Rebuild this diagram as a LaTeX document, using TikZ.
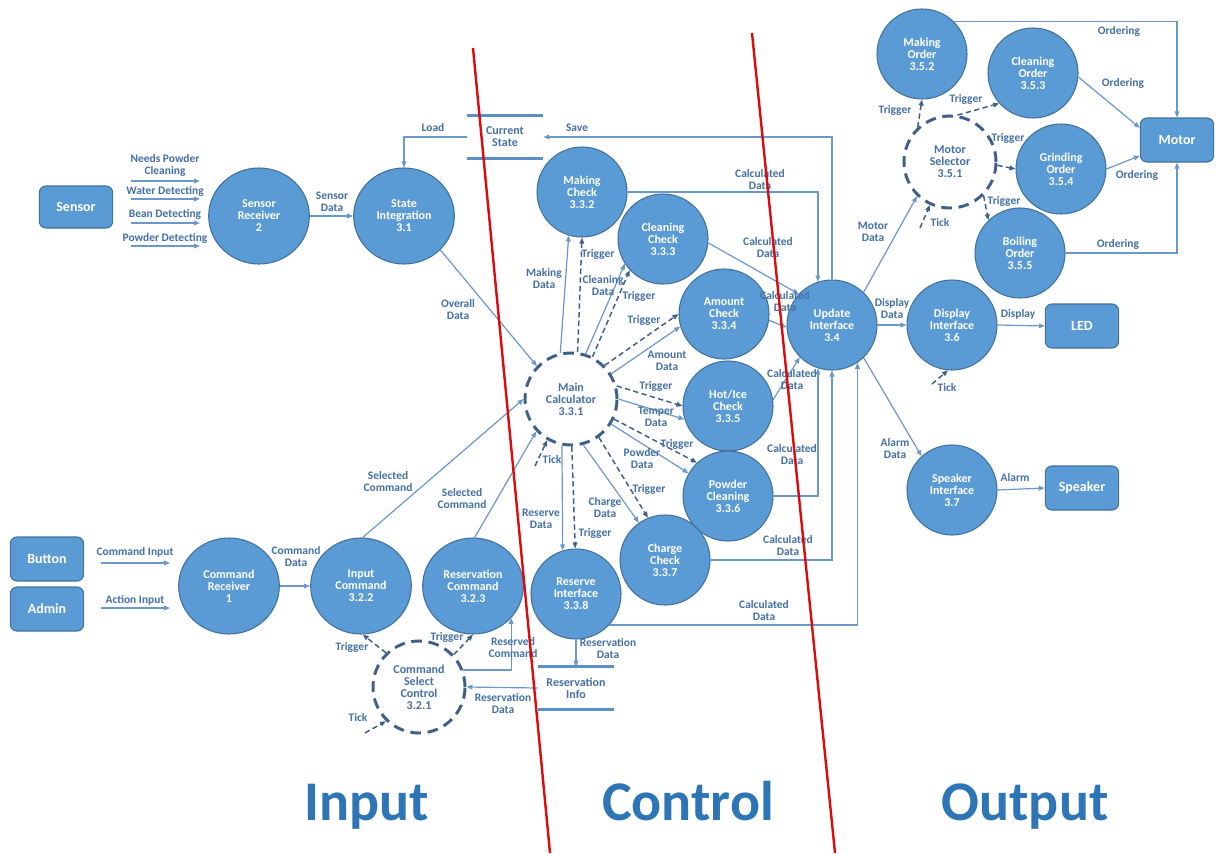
\documentclass[tikz,border=0pt]{standalone}
\usepackage{fontspec}
\setmainfont{Carlito}
\usetikzlibrary{arrows.meta,shapes.geometric}
\definecolor{nodefill}{HTML}{5B9BD5}
\definecolor{nodeborder}{HTML}{41719C}
\definecolor{linecol}{HTML}{6A98CB}
\definecolor{labcol}{HTML}{4470A6}
\definecolor{dashcol}{HTML}{3E5F8A}
\definecolor{storecol}{HTML}{5B8FC8}
\definecolor{bigcol}{HTML}{2E75B6}
\definecolor{redcol}{HTML}{DC0A0A}
\newcommand\nodefont{\fontsize{9}{9}\selectfont\bfseries}
\newcommand\lblfont{\fontsize{8.6}{9}\selectfont\bfseries}
\newcommand\boxfont{\fontsize{10.5}{12}\selectfont\bfseries}
\newcommand\bigfont{\fontsize{42}{45}\selectfont\bfseries}
\begin{document}
\begin{tikzpicture}[x=0.75pt,y=-0.75pt,
  proc/.style={circle,fill=nodefill,draw=nodeborder,line width=0.8pt,minimum size=67.5pt,inner sep=0pt,align=center,font=\nodefont,text=white},
  bigproc/.style={ellipse,fill=nodefill,draw=nodeborder,line width=0.8pt,minimum width=75.5pt,minimum height=72pt,inner sep=0pt,align=center,font=\nodefont,text=white},
  ctrl/.style={circle,draw=dashcol,line width=2.2pt,dash pattern=on 8pt off 5pt,minimum size=69pt,inner sep=0pt,align=center,font=\nodefont,text=labcol},
  ext/.style={rectangle,rounded corners=5pt,fill=nodefill,draw=nodeborder,line width=0.8pt,minimum width=55pt,minimum height=33pt,font=\boxfont,text=white},
  store/.style={minimum width=57pt,minimum height=31.5pt,inner sep=0pt,align=center,font=\nodefont,text=labcol},
  lbl/.style={font=\lblfont,text=labcol,align=center,inner sep=0pt},
  flow/.style={draw=linecol,line width=0.9pt,-{Triangle[length=4.5pt,width=3.5pt]}},
  trig/.style={draw=dashcol,line width=1.1pt,dash pattern=on 4pt off 2.5pt,-{Triangle[length=4.5pt,width=3.5pt]}},
  storeline/.style={draw=storecol,line width=2.2pt},
  biglbl/.style={font=\bigfont,text=bigcol,anchor=base,inner sep=0pt},
  redline/.style={draw=redcol,line width=1.8pt}
]
\fill[white] (0,0) rectangle (1223,853);
\useasboundingbox (0,0) rectangle (1223,853);

% ---------- nodes ----------
\node[ext,minimum height=31.5pt] (sensor) at (76,207) {Sensor};
\node[bigproc] (sr) at (259,216) {Sensor\\Receiver\\2};
\node[bigproc] (si) at (404,216) {State\\Integration\\3.1};
\node[store] (cs) at (505,137) {Current\\State};
\node[proc] (mk) at (582,192) {Making\\Check\\3.3.2};
\node[proc] (cc) at (663,239) {Cleaning\\Check\\3.3.3};
\node[proc] (ac) at (724,314) {Amount\\Check\\3.3.4};
\node[proc] (hc) at (728,406) {Hot/Ice\\Check\\3.3.5};
\node[proc] (pc) at (728,496) {Powder\\Cleaning\\3.3.6};
\node[proc] (chc) at (665,560) {Charge\\Check\\3.3.7};
\node[proc] (ri) at (576,594) {Reserve\\Interface\\3.3.8};
\node[ctrl] (mc) at (571,399) {Main\\Calculator\\3.3.1};
\node[proc] (ui) at (832,325) {Update\\Interface\\3.4};
\node[proc] (di) at (952,325) {Display\\Interface\\3.6};
\node[proc] (spi) at (952,490) {Speaker\\Interface\\3.7};
\node[ext] (led) at (1082,326) {LED};
\node[ext] (spk) at (1082,488) {Speaker};
\node[ctrl] (ms) at (950,162) {Motor\\Selector\\3.5.1};
\node[proc] (mo) at (922,54) {Making\\Order\\3.5.2};
\node[proc] (co) at (1033,73) {Cleaning\\Order\\3.5.3};
\node[proc] (go) at (1061,169) {Grinding\\Order\\3.5.4};
\node[proc] (bo) at (1020,253) {Boiling\\Order\\3.5.5};
\node[ext] (motor) at (1177,140) {Motor};
\node[ext] (button) at (47,559) {Button};
\node[ext] (admin) at (47,609) {Admin};
\node[bigproc] (cr) at (229,586) {Command\\Receiver\\1};
\node[bigproc] (ic) at (361,586) {Input\\Command\\3.2.2};
\node[bigproc] (rc) at (473,586) {Reservation\\Command\\3.2.3};
\node[ctrl] (csc) at (419,687) {Command\\Select\\Control\\3.2.1};
\node[store] (rinf) at (576,688) {Reservation\\Info};

% store lines
\draw[storeline] (cs.north west) -- (cs.north east);
\draw[storeline] (cs.south west) -- (cs.south east);
\draw[storeline] (rinf.north west) -- (rinf.north east);
\draw[storeline] (rinf.south west) -- (rinf.south east);

% free ends
\coordinate (s1a) at (131,181); \coordinate (s1b) at (200,181);
\coordinate (s2a) at (131,199); \coordinate (s2b) at (200,199);
\coordinate (s3a) at (131,223); \coordinate (s3b) at (200,223);
\coordinate (s4a) at (131,246); \coordinate (s4b) at (200,246);
\coordinate (c1a) at (101,563); \coordinate (c1b) at (170,563);
\coordinate (c2a) at (101,608); \coordinate (c2b) at (170,608);
\coordinate (tk1) at (535,466);
\coordinate (tk2) at (365,733);
\coordinate (tk3) at (920,228);
\coordinate (tk4) at (932,384);

% ---------- sensor side ----------
\draw[flow] (s1a) -- (s1b);
\draw[flow] (s2a) -- (s2b);
\draw[flow] (s3a) -- (s3b);
\draw[flow] (s4a) -- (s4b);
\draw[flow] (sr.east) -- (si.west);
\draw[flow] (cs.west) -| (si.north);
\draw[flow] (ui.north) |- (cs.east);
\draw[flow] (si.-43) -- (mc.136);

% ---------- main calculator outputs ----------
\draw[flow] (mc.103) -- (mk.-107);
\draw[trig] (mc.82) -- (mk.-90);
\draw[flow] (mc.72) -- (cc.-147);
\draw[trig] (mc.63) -- (cc.-137);
\draw[trig] (mc.45) -- (ac.180);
\draw[flow] (mc.32) -- (ac.196);
\draw[trig] (mc.16) -- (hc.180);
\draw[flow] (mc.0) -- (hc.197);
\draw[trig] (mc.-25) -- (pc.133);
\draw[flow] (mc.-32) -- (pc.150);
\draw[flow] (mc.-75) -- (chc.125);
\draw[trig] (mc.-54) -- (chc.112);
\draw[flow] (mc.-101) -- (ri.107);
\draw[trig] (mc.-89) -- (ri.91);
\draw[trig] (tk1) -- (mc.-120);

% ---------- checks to update interface ----------
\draw[flow] (mk.east) -| (ui.108);
\draw[flow] (cc.-5) -- (ui.137);
\draw[flow] (ac.-8) -- (ui.183);
\draw[flow] (hc.8) -- (ui.225);
\draw[flow] (pc.east) -| (ui.-108);
\draw[flow] (chc.east) -| (ui.-90);
\draw[flow] (ri.-43) -| (ui.-56);

% ---------- output side ----------
\draw[flow] (ui.46) -- (ms.226);
\draw[flow] (ui.east) -- (di.west);
\draw[flow] (di.east) -- (led.west);
\draw[trig] (tk4) -- (di.-95);
\draw[flow] (ui.-46) -- (spi.132);
\draw[flow] (spi.east) -- (spk.west);
\draw[trig] (ms.133) -- (mo.-90);
\draw[trig] (ms.81) -- (co.222);
\draw[trig] (ms.-4) -- (go.180);
\draw[trig] (ms.-45) -- (bo.134);
\draw[trig] (tk3) -- (ms.245);
\draw[flow] (mo.45) -| (motor.north);
\draw[flow] (co.-5) -- (motor.162);
\draw[flow] (go.0) -- (motor.-157);
\draw[flow] (bo.east) -| (motor.south);

% ---------- command side ----------
\draw[flow] (c1a) -- (c1b);
\draw[flow] (c2a) -- (c2b);
\draw[flow] (cr.east) -- (ic.west);
\draw[flow] (ic.88) -- (mc.180);
\draw[flow] (rc.88) -- (mc.223);
\draw[trig] (csc.134) -- (ic.-88);
\draw[trig] (csc.43) -- (rc.-90);
\draw[trig] (tk2) -- (csc.226);
\draw[flow] (csc.21) -| (rc.-40);
\draw[flow] (rinf.west) -- (csc.east);
\draw[flow] (ri.south) -- (rinf.north);

% ---------- labels ----------
\node[lbl] (l01) at (165,165) {Needs Powder\\Cleaning};
\node[lbl] (l02) at (165,191) {Water Detecting};
\node[lbl] (l03) at (165,214) {Bean Detecting};
\node[lbl] (l04) at (165,238) {Powder Detecting};
\node[lbl] (l05) at (332,202) {Sensor\\Data};
\node[lbl] (l06) at (433,128) {Load};
\node[lbl] (l07) at (577,128) {Save};
\node[lbl] (l08) at (760,180) {Calculated\\Data};
\node[lbl] (l09) at (544,279) {Making\\Data};
\node[lbl] (l10) at (598,254) {Trigger};
\node[lbl] (l11) at (603,286) {Cleaning\\Data};
\node[lbl] (l12) at (639,296) {Trigger};
\node[lbl] (l13) at (768,248) {Calculated\\Data};
\node[lbl] (l14) at (644,320) {Trigger};
\node[lbl] (l15) at (667,361) {Amount\\Data};
\node[lbl] (l16) at (785,302) {Calculated\\Data};
\node[lbl] (l17) at (656,386) {Trigger};
\node[lbl] (l18) at (656,417) {Temper\\Data};
\node[lbl] (l19) at (792,380) {Calculated\\Data};
\node[lbl] (l20) at (677,444) {Trigger};
\node[lbl] (l21) at (642,459) {Powder\\Data};
\node[lbl] (l22) at (792,455) {Calculated\\Data};
\node[lbl] (l23) at (649,489) {Trigger};
\node[lbl] (l24) at (605,508) {Charge\\Data};
\node[lbl] (l25) at (788,546) {Calculated\\Data};
\node[lbl] (l26) at (541,519) {Reserve\\Data};
\node[lbl] (l27) at (595,533) {Trigger};
\node[lbl] (l28) at (552,460) {Tick};
\node[lbl] (l29) at (764,611) {Calculated\\Data};
\node[lbl] (l30) at (458,310) {Overall\\Data};
\node[lbl] (l31) at (388,482) {Selected\\Command};
\node[lbl] (l32) at (462,499) {Selected\\Command};
\node[lbl] (l33) at (135,552) {Command Input};
\node[lbl] (l34) at (135,600) {Action Input};
\node[lbl] (l35) at (296,557) {Command\\Data};
\node[lbl] (l36) at (352,647) {Trigger};
\node[lbl] (l37) at (447,637) {Trigger};
\node[lbl] (l38) at (358,718) {Tick};
\node[lbl] (l39) at (513,648) {Reserved\\Command};
\node[lbl] (l40) at (503,703) {Reservation\\Data};
\node[lbl] (l41) at (608,648) {Reservation\\Data};
\node[lbl] (l42) at (873,232) {Motor\\Data};
\node[lbl] (l43) at (892,309) {Display\\Data};
\node[lbl] (l44) at (1018,314) {Display};
\node[lbl] (l45) at (947,388) {Tick};
\node[lbl] (l46) at (895,449) {Alarm\\Data};
\node[lbl] (l47) at (1015,478) {Alarm};
\node[lbl] (l48) at (1119,31) {Ordering};
\node[lbl] (l49) at (1123,83) {Ordering};
\node[lbl] (l50) at (1137,175) {Ordering};
\node[lbl] (l51) at (1118,244) {Ordering};
\node[lbl] (l52) at (895,110) {Trigger};
\node[lbl] (l53) at (966,99) {Trigger};
\node[lbl] (l54) at (1008,138) {Trigger};
\node[lbl] (l55) at (1004,201) {Trigger};
\node[lbl] (l56) at (940,223) {Tick};

% ---------- zone titles ----------
\node[biglbl] (tin) at (367,820) {Input};
\node[biglbl] (tct) at (688,820) {Control};
\node[biglbl] (tout) at (1025,820) {Output};

% ---------- red separators ----------
\draw[redline] (473,48) -- (550,853);
\draw[redline] (752,33) -- (835,853);
\end{tikzpicture}
\end{document}
